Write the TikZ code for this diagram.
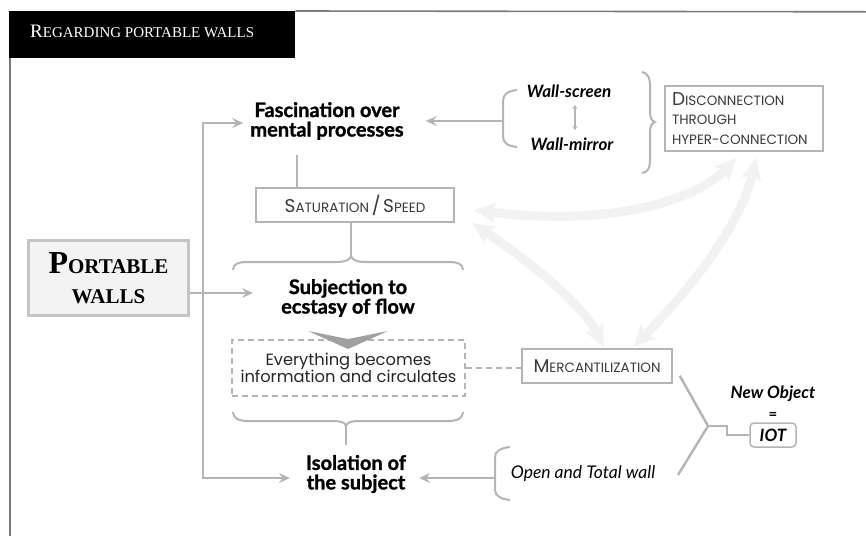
\documentclass[tikz,border=0pt]{standalone}
\usepackage{fontspec}
\setmainfont{Lato}
\newfontfamily\headf{Lato}[BoldFeatures={FakeBold=1.3}]
\newfontfamily\popf{Poppins}
\newfontfamily\serf{Liberation Serif}
\usetikzlibrary{arrows.meta}
\definecolor{lnc}{HTML}{B4B4B6}
\definecolor{bigarr}{HTML}{F2F2F2}
\definecolor{sctext}{HTML}{3A3A3A}
\definecolor{framec}{HTML}{7A7A7A}
\definecolor{pwb}{HTML}{C4C4C4}
\definecolor{pwf}{HTML}{F3F3F3}
\definecolor{chev}{HTML}{A0A0A0}
\newcommand\bigC[1]{{\fontsize{18.5}{18.5}\selectfont #1}}
\newcommand\smC[1]{{\fontsize{13.5}{13.5}\selectfont #1}}
\begin{document}
\begin{tikzpicture}[x=1pt,y=-1pt,
  conn/.style={draw=lnc, line width=2.4pt},
  arr/.style={conn, -{Stealth[length=11pt,width=10pt,inset=4pt]}},
  head/.style={font=\headf\fontsize{20}{19.5}\selectfont\bfseries, align=center, inner sep=0pt},
  itl/.style={font=\fontsize{17}{17}\selectfont\bfseries\itshape, inner sep=0pt},
  scbox/.style={draw=lnc, line width=1.5pt, text=sctext, font=\popf, inner sep=0pt, fill=white},
  bigflow/.style={draw=bigarr, line width=9pt, {Stealth[length=22pt,width=20pt,inset=5pt]}-{Stealth[length=22pt,width=20pt,inset=5pt]}},
  brk/.style={draw=lnc, line width=2pt},
]
\useasboundingbox (0,0) rectangle (866,536);

% anchor points of the light arrows
\coordinate (fa1) at (737,158);
\coordinate (fa2) at (474,210);
\coordinate (fb1) at (472,223);
\coordinate (fb2) at (604,347);
\coordinate (fc1) at (756,158);
\coordinate (fc2) at (633,347);
\draw[bigflow] (fa2) .. controls (600,226) and (690,205) .. (fa1);
\draw[bigflow] (fb1) .. controls (520,255) and (580,300) .. (fb2);
\draw[bigflow] (fc1) .. controls (740,230) and (680,300) .. (fc2);

% boxes
\node[scbox, minimum width=158pt, minimum height=65pt, text width=144pt, align=left,
      font=\popf\fontsize{13.5}{19.5}\selectfont] (disc) at (744,118.5)
  {\bigC{D}\smC{ISCONNECTION}\\\smC{THROUGH}\\\smC{HYPER-CONNECTION}};
\node[scbox, minimum width=198pt, minimum height=34pt] (sat) at (355,205)
  {\bigC{S}\smC{ATURATION} \bigC{/} \bigC{S}\smC{PEED}};
\node[scbox, minimum width=150pt, minimum height=34pt] (merc) at (597,366)
  {\bigC{M}\smC{ERCANTILIZATION}};

% title bar and frame
\node[fill=black, minimum width=286pt, minimum height=47pt, anchor=north west, inner sep=0pt] (tbar) at (9,11) {};
\node[anchor=base west, text=white, font=\serf, inner sep=0pt] (title) at (30,37)
  {{\fontsize{19}{19}\selectfont R}{\fontsize{15}{15}\selectfont EGARDING PORTABLE WALLS}};
\draw[framec, line width=1.6pt] (tbar.north east) -- (866,11.8);
\draw[framec, line width=1.6pt] ([xshift=0.8pt]tbar.south west) -- (9.8,536);

% portable walls
\node[draw=pwb, fill=pwf, line width=3pt, minimum width=160pt, minimum height=75pt,
      font=\serf\bfseries\fontsize{21}{30}\selectfont, align=center, inner sep=0pt] (pw) at (108.5,278)
  {{\fontsize{32}{32}\selectfont P}ORTABLE\\WALLS};

% main texts
\node[head] (fasc) at (327,121) {Fascination over\\mental processes};
\node[head] (subj) at (348,298) {Subjection to\\ecstasy of flow};
\node[head] (isol) at (356,474) {Isolation of\\the subject};
\node[itl] (wscr) at (569,91) {Wall-screen};
\node[itl] (wmir) at (572,144) {Wall-mirror};
\node[font=\fontsize{17.5}{17.5}\selectfont\itshape, inner sep=0pt] (open) at (583,474) {Open and Total wall};
\node[draw=lnc, dash pattern=on 6pt off 4pt, line width=1.5pt, minimum width=233pt, minimum height=56pt,
      font=\popf\fontsize{16.3}{17.5}\selectfont, text=black!85, align=center, inner sep=0pt] (dbox) at (348.5,368)
  {Everything becomes\\information and circulates};
\node[itl] (newobj) at (773,394) {New Object};
\node[itl, font=\fontsize{15}{15}\selectfont\bfseries] (eq) at (773,416) {=};
\node[draw=lnc, line width=1.5pt, rounded corners=4pt, minimum width=46pt, minimum height=24pt,
      font=\fontsize{17}{17}\selectfont\bfseries\itshape, inner sep=0pt] (iot) at (773,435) {IOT};

% left trunk
\coordinate (vjoin) at (203,293);
\draw[arr] (pw.east |- vjoin) -- (253,293);
\draw[arr] (vjoin) |- ([xshift=-7pt, yshift=-2pt]fasc.west);
\draw[arr] (vjoin) |- ([xshift=-16pt, yshift=-4pt]isol.west);

% wall bracket
\coordinate (wb) at (503,121);
\draw[brk] (517,90) .. controls (508,91) and (503,94) .. (503,101) -- (503,137)
  .. controls (503,143) and (508,146) .. (517,147);
\draw[arr] (wb) -- ([xshift=22pt]fasc.east);
\coordinate (dA) at (575,105);
\coordinate (dB) at (575,130);
\draw[draw=lnc, line width=1.6pt, {Stealth[length=4pt,width=5pt]}-{Stealth[length=4pt,width=5pt]}] (dA) -- (dB);
% right brace
\draw[brk] (642,72) .. controls (648,73) and (650,78) .. (650,86) -- (650,112)
  .. controls (650,118) and (652,121) .. (655,122) .. controls (652,123) and (650,126) .. (650,132)
  -- (650,160) .. controls (650,168) and (648,172) .. (642,173);

% fasc -> sat -> brace
\draw[conn] ([xshift=-58pt]sat.north) -- ++(0,-32);
\coordinate (tcusp) at (351,256);
\draw[conn] (sat.south -| tcusp) -- (tcusp);
\draw[brk] (233,270) .. controls (233,264) and (238,262) .. (248,262) -- (336,262)
  .. controls (345,262) and (350,260) .. (tcusp) .. controls (352,260) and (357,262) .. (366,262)
  -- (448,262) .. controls (458,262) and (463,264) .. (463,270);

% chevron
\fill[chev] (308,331) -- (348,339) -- (388,331) -- (348,349) -- cycle;

% bottom brace
\coordinate (bcusp) at (346,426);
\draw[brk] (233,412) .. controls (233,418) and (238,421) .. (248,421) -- (332,421)
  .. controls (340,421) and (345,422) .. (bcusp) .. controls (347,422) and (352,421) .. (360,421)
  -- (448,421) .. controls (458,421) and (463,418) .. (463,412);
\draw[conn] (bcusp) -- ++(0,19);

% dashed link
\draw[draw=lnc, line width=1.5pt, dash pattern=on 6pt off 4pt] (dbox.east) -- (dbox.east -| merc.west);

% open bracket
\coordinate (ob) at (495,478);
\draw[brk] (510,447) .. controls (501,448) and (495,451) .. (495,457) -- (495,490)
  .. controls (495,496) and (501,499) .. (510,500);
\draw[arr] (ob) -- ([xshift=13pt]isol.east |- ob);

% merge to IOT
\coordinate (mj) at (708,426);
\coordinate (oj) at (678,475);
\draw[conn] ([shift={(7pt,8pt)}]merc.south east) -- (mj) -- (oj);
\draw[conn] (mj) -- ++(19,0) |- (iot.west);
\end{tikzpicture}
\end{document}
